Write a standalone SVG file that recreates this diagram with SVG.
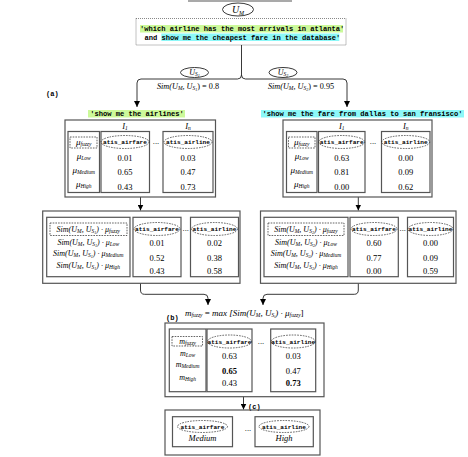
<svg xmlns="http://www.w3.org/2000/svg" width="468" height="457" viewBox="0 0 468 457">
<defs>
<style>
.bx{fill:none;stroke:#555;stroke-width:1.2}
.db{fill:none;stroke:#222;stroke-width:0.7;stroke-dasharray:1.6 1.1}
.dt{fill:none;stroke:#555;stroke-width:0.7;stroke-dasharray:1 1}
.ln{fill:none;stroke:#222;stroke-width:0.9}
.cd{font-family:"Liberation Mono",monospace;font-weight:bold;fill:#000;font-size:7.1px}
.hd{font-family:"Liberation Mono",monospace;font-weight:bold;fill:#000;font-size:6.1px;text-anchor:middle}
.m{font-family:"Liberation Serif",serif;font-style:italic;fill:#000}
.n{font-family:"Liberation Serif",serif;fill:#000;font-size:8.5px;text-anchor:middle}
.nb{font-weight:bold}
.c{text-anchor:middle}
.s1{font-size:5.5px}
.s2{font-size:4.2px}
.up{font-style:normal}
.lab{font-family:"Liberation Mono",monospace;font-weight:bold;font-size:7px;fill:#000}
</style>
<marker id="ah" markerWidth="6" markerHeight="6" refX="6" refY="3" orient="auto" markerUnits="userSpaceOnUse"><path d="M0,0 L6,3 L0,6 Z" fill="#000"/></marker>
</defs>
<rect width="468" height="457" fill="#fff"/>

<g id="top-line"><line x1="188" y1="1" x2="292" y2="1" stroke="#555" stroke-width="1.2"/></g>

<g id="um">
<ellipse cx="238" cy="9.5" rx="15.5" ry="6.5" fill="none" stroke="#222" stroke-width="0.9"/>
<text class="m c" x="238" y="13" font-size="10">U<tspan font-size="6" dy="1.5">M</tspan></text>
</g>

<g id="query">
<rect class="dt" x="136" y="18.5" width="210" height="26.5"/>
<rect x="140" y="25" width="203" height="7.5" fill="#ccf99a"/>
<rect x="161.3" y="33.5" width="178" height="7.5" fill="#8cf8f8"/>
<text class="cd" x="140" y="31">'which airline has the most arrivals in atlanta'</text>
<text class="cd" x="144.5" y="39.5">and show me the cheapest fare in the database'</text>
</g>

<g id="us1">
<ellipse cx="194.5" cy="72.5" rx="14" ry="5" fill="none" stroke="#222" stroke-width="0.9"/>
<text class="m c" x="194.5" y="75" font-size="8">U<tspan class="s1" dy="1.2">S</tspan><tspan class="s2" dy="0.8">1</tspan></text>
<text class="m c" x="188" y="89" font-size="8.2">Sim(U<tspan class="s1" dy="1.2">M</tspan><tspan dy="-1.2">, U</tspan><tspan class="s1" dy="1.2">S</tspan><tspan class="s2" dy="0.8">1</tspan><tspan class="up" dy="-2">) = 0.8</tspan></text>
</g>

<g id="us2">
<ellipse cx="283" cy="72.5" rx="14" ry="5" fill="none" stroke="#222" stroke-width="0.9"/>
<text class="m c" x="283" y="75" font-size="8">U<tspan class="s1" dy="1.2">S</tspan><tspan class="s2" dy="0.8">2</tspan></text>
<text class="m c" x="301" y="89" font-size="8.2">Sim(U<tspan class="s1" dy="1.2">M</tspan><tspan dy="-1.2">, U</tspan><tspan class="s1" dy="1.2">S</tspan><tspan class="s2" dy="0.8">2</tspan><tspan class="up" dy="-2">) = 0.95</tspan></text>
</g>

<g id="label-a"><text class="lab" x="46" y="96">(a)</text></g>

<g id="connectors">
<path class="ln" d="M241.5,45 V75 Q241.5,79 237.5,79 H141 Q137,79 137,83 V107" marker-end="url(#ah)"/>
<path class="ln" d="M241.5,75 Q241.5,79 245.5,79 H343 Q347,79 347,83 V107" marker-end="url(#ah)"/>
<path class="ln" d="M140.5,197 V210.5" marker-end="url(#ah)"/>
<path class="ln" d="M358.3,197 V210.5" marker-end="url(#ah)"/>
<path class="ln" d="M140.5,283.3 V290 Q140.5,294.3 144.5,294.3 H204 Q208,294.3 208,298.3 V305" marker-end="url(#ah)"/>
<path class="ln" d="M358.3,283.3 V290 Q358.3,294.3 354.3,294.3 H267 Q263,294.3 263,298.3 V305" marker-end="url(#ah)"/>
<path class="ln" d="M243.5,396.7 V409.5" marker-end="url(#ah)"/>
</g>

<g id="stage1-left">
<rect x="88" y="110" width="97" height="7.5" fill="#ccf99a"/>
<text class="cd c" x="137" y="116">'show me the airlines'</text>
<rect class="bx" x="65" y="120" width="150.5" height="77"/>
<rect class="bx" x="68" y="131.5" width="31.5" height="61"/>
<rect class="bx" x="101" y="131.5" width="48.5" height="61"/>
<rect class="bx" x="163" y="131.5" width="50" height="61"/>
<text class="m c" x="125" y="129" font-size="8.5">I<tspan class="s1" dy="1.2">1</tspan></text>
<text class="m c" x="188" y="129" font-size="8.5">I<tspan class="s1" dy="1.2">n</tspan></text>
<rect class="db" x="70" y="137" width="27" height="11"/>
<text class="m c" x="83.7" y="145" font-size="9">μ<tspan class="s1" dy="1.3">fuzzy</tspan></text>
<text class="m c" x="83.7" y="159" font-size="9">μ<tspan class="s1" dy="1.3">Low</tspan></text>
<text class="m c" x="83.7" y="173" font-size="9">μ<tspan class="s1" dy="1.3">Medium</tspan></text>
<text class="m c" x="83.7" y="186.5" font-size="9">μ<tspan class="s1" dy="1.3">High</tspan></text>
<ellipse class="db" cx="125" cy="142" rx="24" ry="6.5"/>
<text class="hd" x="125" y="144">atis_airfare</text>
<text class="n" x="125" y="161.3">0.01</text>
<text class="n" x="125" y="174.5">0.65</text>
<text class="n" x="125" y="189.5">0.43</text>
<text class="n" x="156" y="144">...</text>
<ellipse class="db" cx="188" cy="142" rx="24" ry="6.5"/>
<text class="hd" x="188" y="144">atis_airline</text>
<text class="n" x="188" y="161.3">0.03</text>
<text class="n" x="188" y="174.5">0.47</text>
<text class="n" x="188" y="189.5">0.73</text>
</g>

<g id="stage1-right">
<rect x="261" y="110" width="203" height="7.5" fill="#8cf8f8"/>
<text class="cd c" x="362.5" y="116">'show me the fare from dallas to san fransisco'</text>
<rect class="bx" x="283" y="120" width="149" height="77"/>
<rect class="bx" x="286.5" y="131.5" width="30.5" height="61"/>
<rect class="bx" x="318.5" y="131.5" width="46.5" height="61"/>
<rect class="bx" x="381.5" y="131.5" width="48.5" height="61"/>
<text class="m c" x="341.7" y="129" font-size="8.5">I<tspan class="s1" dy="1.2">1</tspan></text>
<text class="m c" x="405.7" y="129" font-size="8.5">I<tspan class="s1" dy="1.2">n</tspan></text>
<rect class="db" x="288.5" y="137" width="26.5" height="11"/>
<text class="m c" x="301.7" y="145" font-size="9">μ<tspan class="s1" dy="1.3">fuzzy</tspan></text>
<text class="m c" x="301.7" y="159" font-size="9">μ<tspan class="s1" dy="1.3">Low</tspan></text>
<text class="m c" x="301.7" y="173" font-size="9">μ<tspan class="s1" dy="1.3">Medium</tspan></text>
<text class="m c" x="301.7" y="186.5" font-size="9">μ<tspan class="s1" dy="1.3">High</tspan></text>
<ellipse class="db" cx="341.7" cy="142" rx="23" ry="6.5"/>
<text class="hd" x="341.7" y="144">atis_airfare</text>
<text class="n" x="341.7" y="161.3">0.63</text>
<text class="n" x="341.7" y="174.5">0.81</text>
<text class="n" x="341.7" y="189.5">0.00</text>
<text class="n" x="373" y="144">...</text>
<ellipse class="db" cx="405.7" cy="142" rx="24" ry="6.5"/>
<text class="hd" x="405.7" y="144">atis_airline</text>
<text class="n" x="405.7" y="161.3">0.00</text>
<text class="n" x="405.7" y="174.5">0.09</text>
<text class="n" x="405.7" y="189.5">0.62</text>
</g>

<g id="stage2-left">
<rect class="bx" x="42.7" y="211" width="197.3" height="72.3"/>
<rect class="bx" x="46.7" y="217.3" width="83.3" height="59.4"/>
<rect class="bx" x="133" y="217.3" width="48" height="59.4"/>
<rect class="bx" x="190.5" y="217.3" width="48" height="59.4"/>
<rect class="db" x="50" y="223" width="77" height="12.5"/>
<text class="m c" x="88.3" y="232" font-size="8">Sim(U<tspan class="s1" dy="1.2">M</tspan><tspan dy="-1.2">, U</tspan><tspan class="s1" dy="1.2">S</tspan><tspan class="s2" dy="0.8">1</tspan><tspan dy="-2">) · μ</tspan><tspan class="s1" dy="1.2">fuzzy</tspan></text>
<text class="m c" x="88.3" y="244.5" font-size="8">Sim(U<tspan class="s1" dy="1.2">M</tspan><tspan dy="-1.2">, U</tspan><tspan class="s1" dy="1.2">S</tspan><tspan class="s2" dy="0.8">1</tspan><tspan dy="-2">) · μ</tspan><tspan class="s1" dy="1.2">Low</tspan></text>
<text class="m c" x="88.3" y="256" font-size="8">Sim(U<tspan class="s1" dy="1.2">M</tspan><tspan dy="-1.2">, U</tspan><tspan class="s1" dy="1.2">S</tspan><tspan class="s2" dy="0.8">1</tspan><tspan dy="-2">) · μ</tspan><tspan class="s1" dy="1.2">Medium</tspan></text>
<text class="m c" x="88.3" y="268" font-size="8">Sim(U<tspan class="s1" dy="1.2">M</tspan><tspan dy="-1.2">, U</tspan><tspan class="s1" dy="1.2">S</tspan><tspan class="s2" dy="0.8">1</tspan><tspan dy="-2">) · μ</tspan><tspan class="s1" dy="1.2">High</tspan></text>
<ellipse class="db" cx="157" cy="229" rx="23" ry="6.5"/>
<text class="hd" x="157" y="231">atis_airfare</text>
<text class="n" x="157" y="246">0.01</text>
<text class="n" x="157" y="261">0.52</text>
<text class="n" x="157" y="273.5">0.43</text>
<text class="n" x="185.7" y="231">...</text>
<ellipse class="db" cx="214.5" cy="229" rx="23" ry="6.5"/>
<text class="hd" x="214.5" y="231">atis_airline</text>
<text class="n" x="214.5" y="246">0.02</text>
<text class="n" x="214.5" y="261">0.38</text>
<text class="n" x="214.5" y="273.5">0.58</text>
</g>

<g id="stage2-right">
<rect class="bx" x="260.5" y="211" width="195.5" height="72.3"/>
<rect class="bx" x="264" y="217.3" width="84" height="59.4"/>
<rect class="bx" x="350" y="217.3" width="48.3" height="59.4"/>
<rect class="bx" x="407.5" y="217.3" width="46" height="59.4"/>
<rect class="db" x="268" y="223" width="76" height="12.5"/>
<text class="m c" x="306" y="232" font-size="8">Sim(U<tspan class="s1" dy="1.2">M</tspan><tspan dy="-1.2">, U</tspan><tspan class="s1" dy="1.2">S</tspan><tspan class="s2" dy="0.8">2</tspan><tspan dy="-2">) · μ</tspan><tspan class="s1" dy="1.2">fuzzy</tspan></text>
<text class="m c" x="306" y="244.5" font-size="8">Sim(U<tspan class="s1" dy="1.2">M</tspan><tspan dy="-1.2">, U</tspan><tspan class="s1" dy="1.2">S</tspan><tspan class="s2" dy="0.8">2</tspan><tspan dy="-2">) · μ</tspan><tspan class="s1" dy="1.2">Low</tspan></text>
<text class="m c" x="306" y="256" font-size="8">Sim(U<tspan class="s1" dy="1.2">M</tspan><tspan dy="-1.2">, U</tspan><tspan class="s1" dy="1.2">S</tspan><tspan class="s2" dy="0.8">2</tspan><tspan dy="-2">) · μ</tspan><tspan class="s1" dy="1.2">Medium</tspan></text>
<text class="m c" x="306" y="268" font-size="8">Sim(U<tspan class="s1" dy="1.2">M</tspan><tspan dy="-1.2">, U</tspan><tspan class="s1" dy="1.2">S</tspan><tspan class="s2" dy="0.8">2</tspan><tspan dy="-2">) · μ</tspan><tspan class="s1" dy="1.2">High</tspan></text>
<ellipse class="db" cx="374" cy="229" rx="23" ry="6.5"/>
<text class="hd" x="374" y="231">atis_airfare</text>
<text class="n" x="374" y="246">0.60</text>
<text class="n" x="374" y="261">0.77</text>
<text class="n" x="374" y="273.5">0.00</text>
<text class="n" x="402.8" y="231">...</text>
<ellipse class="db" cx="430.5" cy="229" rx="22.5" ry="6.5"/>
<text class="hd" x="430.5" y="231">atis_airline</text>
<text class="n" x="430.5" y="246">0.00</text>
<text class="n" x="430.5" y="261">0.09</text>
<text class="n" x="430.5" y="273.5">0.59</text>
</g>

<g id="stage-b">
<text class="lab" x="166" y="320">(b)</text>
<text class="m" x="185" y="316" font-size="9">m<tspan class="s1" dy="1.3">fuzzy</tspan><tspan class="up" dy="-1.3"> = </tspan>max [Sim(U<tspan class="s1" dy="1.3">M</tspan><tspan dy="-1.3">, U</tspan><tspan class="s1" dy="1.3">S</tspan><tspan class="s2" dy="0.8">i</tspan><tspan dy="-2.1">) · μ</tspan><tspan class="s1" dy="1.3">fuzzy</tspan><tspan class="up" dy="-1.3">]</tspan></text>
<rect class="bx" x="165" y="323" width="159" height="73.7"/>
<rect class="bx" x="169.3" y="329" width="36.7" height="62.7"/>
<rect class="bx" x="207" y="329" width="45" height="62.7"/>
<rect class="bx" x="270.7" y="329" width="45" height="62.7"/>
<rect class="db" x="172" y="336.5" width="30.5" height="9.5"/>
<text class="m c" x="187.6" y="343.5" font-size="8">m<tspan class="s1" dy="1.2">fuzzy</tspan></text>
<text class="m c" x="187.6" y="356" font-size="8">m<tspan class="s1" dy="1.2">Low</tspan></text>
<text class="m c" x="187.6" y="367" font-size="8">m<tspan class="s1" dy="1.2">Medium</tspan></text>
<text class="m c" x="187.6" y="379.5" font-size="8">m<tspan class="s1" dy="1.2">High</tspan></text>
<ellipse class="db" cx="229.5" cy="341.5" rx="22" ry="6.5"/>
<text class="hd" x="229.5" y="343.5">atis_airfare</text>
<text class="n" x="229.5" y="358.5">0.63</text>
<text class="n nb" x="229.5" y="373.5">0.65</text>
<text class="n" x="229.5" y="386">0.43</text>
<text class="n" x="261" y="343.5">...</text>
<ellipse class="db" cx="293.2" cy="341.5" rx="22" ry="6.5"/>
<text class="hd" x="293.2" y="343.5">atis_airline</text>
<text class="n" x="293.2" y="358.5">0.03</text>
<text class="n" x="293.2" y="373.5">0.47</text>
<text class="n nb" x="293.2" y="386">0.73</text>
</g>

<g id="stage-c">
<text class="lab" x="248" y="408.5">(c)</text>
<rect class="bx" x="165" y="410" width="155" height="45"/>
<rect class="bx" x="172.5" y="416.7" width="60" height="30"/>
<rect class="bx" x="255" y="416.7" width="58.3" height="30"/>
<ellipse class="db" cx="202.5" cy="426.5" rx="25" ry="6"/>
<text class="hd" x="202.5" y="428.5">atis_airfare</text>
<text class="m c" x="202.5" y="441" font-size="8.5">Medium</text>
<text class="n" x="248" y="431">...</text>
<ellipse class="db" cx="284" cy="426.5" rx="25" ry="6"/>
<text class="hd" x="284" y="428.5">atis_airline</text>
<text class="m c" x="284" y="441" font-size="8.5">High</text>
</g>
</svg>
